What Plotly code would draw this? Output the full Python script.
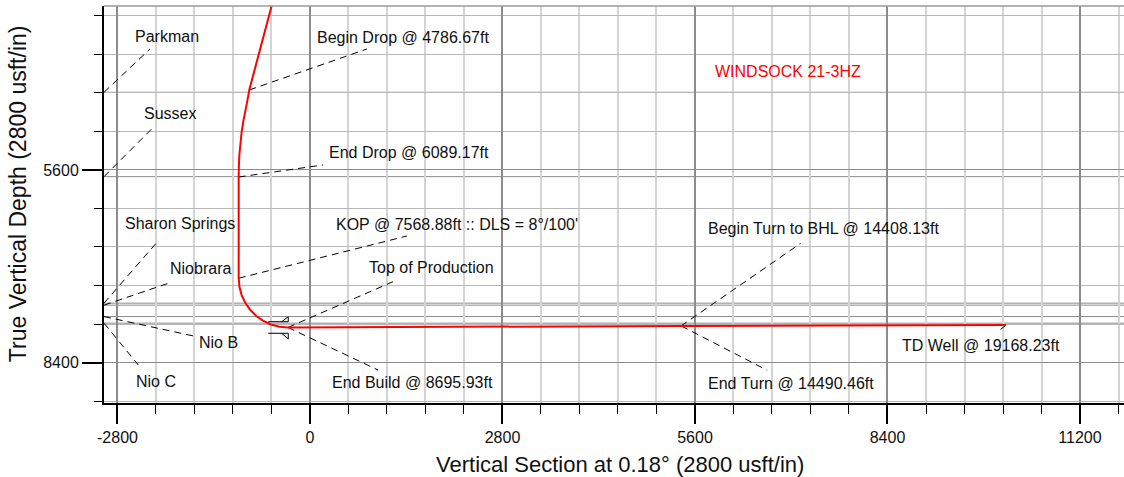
import plotly.graph_objects as go

# ---------------- data ----------------
# well path: vertical section (usft) and true vertical depth (usft)
well_vs = [-501, -557, -883, -907, -944, -970, -995, -1013, -1027, -1034, -1037, -1037,
           -1026, -994, -941, -870, -781, -679, -566, -445, -321,
           5396, 5478, 10124]
well_tvd = [3000, 3210, 4436, 4572, 4735, 4892, 5055, 5214, 5378, 5539, 5702, 7174,
            7298, 7419, 7532, 7634, 7723, 7794, 7847, 7879, 7890,
            7869, 7868, 7855]

# formation tops (TVD)
formation_names = ["Parkman", "Sussex", "Sharon Springs", "Niobrara", "Nio B", "Nio C"]
formation_tvd = [4470, 5697, 7537, 7566, 7732, 7828]

# annotation labels: text, centre position
label_text = ["Parkman", "Begin Drop @ 4786.67ft", "Sussex", "End Drop @ 6089.17ft",
              "Sharon Springs", "Niobrara", "KOP @ 7568.88ft :: DLS = 8°/100'",
              "Top of Production", "End Build @ 8695.93ft", "Nio B", "Nio C",
              "Begin Turn to BHL @ 14408.13ft", "End Turn @ 14490.46ft",
              "TD Well @ 19168.23ft"]
label_vs = [-2080, 1353, -2041, 1440, -1895, -1593, 2138, 1767, 1498, -1328, -2240,
            7476, 7003, 9760]
label_tvd = [3665, 3673, 4783, 5345, 6385, 7033, 6396, 7025, 8698, 8109, 8669,
             6444, 8702, 8156]

# leader lines (from the well / formation point to the label)
leader_from_vs = [-2996, -883, -2996, -1037, -2996, -2996, -1037, -321, -321, -2996,
                  -2996, 5396, 5401, 10124]
leader_from_tvd = [4470, 4436, 5697, 5702, 7537, 7566, 7174, 7890, 7890, 7732, 7828,
                   7869, 7869, 7855]
leader_to_vs = [-2327, 829, -2284, 189, -2196, -2061, 1411, 1207, 989, -1644, -2497,
                7137, 6650, 10036]
leader_to_tvd = [3840, 3840, 4985, 5527, 6618, 7248, 6560, 7225, 8509, 8025, 8436,
                 6666, 8513, 7927]

# target flag markers near end of build
flag_vs = [-607, -316, -316, -412, None, -607, -316, -316, -412]
flag_tvd = [7807, 7807, 7734, 7807, None, 7975, 7975, 8058, 7975]

well_name = "WINDSOCK 21-3HZ"
well_name_vs = 6960
well_name_tvd = 4163

x_tick_vals = [-2800, 0, 2800, 5600, 8400, 11200]
x_tick_text = ["-2800", "0", "2800", "5600", "8400", "11200"]
y_tick_vals = [5600, 8400]
y_tick_text = ["5600", "8400"]
x_range = [-2996, 11840]
y_range = [8989, 3215]

FONT = "Liberation Sans, Arial, sans-serif"

fig = go.Figure()

# leader lines
lx, ly = [], []
for a, b, c, d in zip(leader_from_vs, leader_from_tvd, leader_to_vs, leader_to_tvd):
    lx += [a, c, None]
    ly += [b, d, None]
fig.add_trace(go.Scatter(x=lx, y=ly, mode="lines",
                         line=dict(color="black", width=1, dash="7px,5px"),
                         hoverinfo="skip"))

# flags
fig.add_trace(go.Scatter(x=flag_vs, y=flag_tvd, mode="lines",
                         line=dict(color="black", width=1), hoverinfo="skip"))

# well path
fig.add_trace(go.Scatter(x=well_vs, y=well_tvd, mode="lines",
                         line=dict(color="#ff0000", width=2), name=well_name))

shapes = []
for t in formation_tvd:
    shapes.append(dict(type="line", xref="paper", x0=0, x1=1, yref="y", y0=t, y1=t,
                       line=dict(color="#8a8a8a", width=1), layer="below"))
# top frame line
shapes.append(dict(type="line", xref="paper", x0=0, x1=1, yref="paper", y0=1, y1=1,
                   line=dict(color="#9a9a9a", width=1.5)))

annotations = []
for t, x, y in zip(label_text, label_vs, label_tvd):
    annotations.append(dict(x=x, y=y, text=t, showarrow=False, xanchor="center",
                            yanchor="middle", font=dict(family=FONT, size=16, color="#111")))
annotations.append(dict(x=well_name_vs, y=well_name_tvd, text=well_name, showarrow=False,
                        xanchor="center", yanchor="middle",
                        font=dict(family=FONT, size=16, color="#ff0000")))
annotations.append(dict(xref="paper", yref="paper", x=0.5054, y=-0.156,
                        text="Vertical Section at 0.18° (2800 usft/in)", showarrow=False,
                        xanchor="center", yanchor="middle",
                        font=dict(family=FONT, size=22, color="#111")))
annotations.append(dict(xref="paper", yref="paper", x=-0.0843, y=0.526,
                        text="True Vertical Depth (2800 usft/in)", showarrow=False,
                        textangle=-90, xanchor="center", yanchor="middle",
                        font=dict(family=FONT, size=23, color="#111")))

fig.update_layout(
    width=1124, height=477,
    margin=dict(l=104, r=0, t=6, b=74),
    paper_bgcolor="white", plot_bgcolor="white",
    showlegend=False,
    shapes=shapes, annotations=annotations,
    xaxis=dict(range=x_range, tickmode="array", tickvals=x_tick_vals, ticktext=x_tick_text,
               ticks="outside", ticklen=19, tickwidth=1.5, tickcolor="black",
               showline=True, linewidth=2, linecolor="black", zeroline=False,
               showgrid=True, gridcolor="#8c8c8c", gridwidth=1.5,
               tickfont=dict(family=FONT, size=16, color="#111"),
               minor=dict(tickmode="linear", tick0=0, dtick=560, ticks="outside", ticklen=9,
                          tickwidth=1, tickcolor="black", showgrid=True,
                          gridcolor="#d4d4d4", gridwidth=2)),
    yaxis=dict(range=y_range, tickmode="array", tickvals=y_tick_vals, ticktext=y_tick_text,
               ticks="outside", ticklen=20, tickwidth=1.5, tickcolor="black",
               showline=True, linewidth=2, linecolor="black", zeroline=False,
               showgrid=True, gridcolor="#8c8c8c", gridwidth=1,
               tickfont=dict(family=FONT, size=16, color="#111"),
               minor=dict(tickmode="linear", tick0=0, dtick=560, ticks="outside", ticklen=8,
                          tickwidth=1, tickcolor="black", showgrid=True,
                          gridcolor="#b8b8b8", gridwidth=1)),
)

fig.write_html("out.html", config={"displayModeBar": False},
               post_script="document.body.style.margin='0';document.body.style.overflow='hidden';")
